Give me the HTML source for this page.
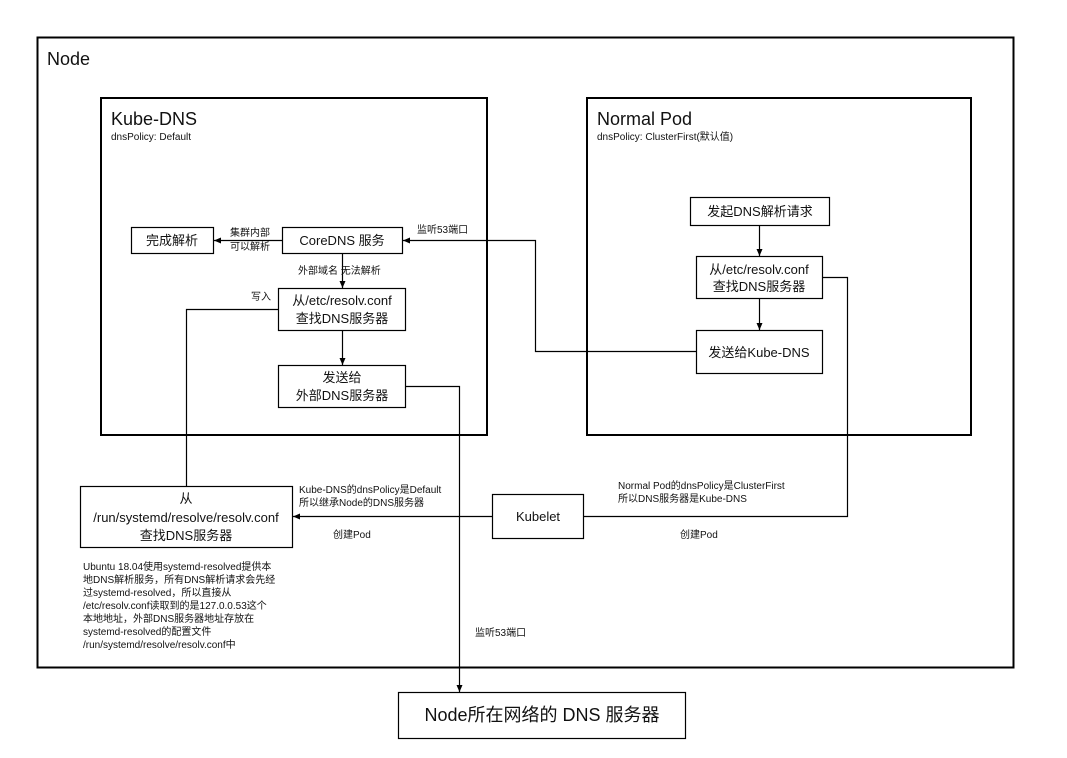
<!DOCTYPE html>
<html><head><meta charset="utf-8"><style>
body{margin:0;background:#fff}
svg text{font-family:"Liberation Sans","Noto Sans CJK SC",sans-serif;fill:#111}
</style></head><body>
<svg width="1067" height="753" viewBox="0 0 1067 753" xmlns="http://www.w3.org/2000/svg">
<defs><marker id="a" markerWidth="8" markerHeight="8" refX="7" refY="4" orient="auto" markerUnits="userSpaceOnUse"><path d="M0,1 L7,4 L0,7 z" fill="#000"/></marker></defs>
<g fill="none" stroke="#000">
<rect x="37.5" y="37.5" width="976" height="630" stroke-width="2"/>
<rect x="101" y="98" width="386" height="337" stroke-width="2"/>
<rect x="587" y="98" width="384" height="337" stroke-width="2"/>
<g stroke-width="1.2">
<rect x="131.5" y="227.5" width="82" height="26"/>
<rect x="282.5" y="227.5" width="120" height="26"/>
<rect x="278.5" y="288.5" width="127" height="42"/>
<rect x="278.5" y="365.5" width="127" height="42"/>
<rect x="690.5" y="197.5" width="139" height="28"/>
<rect x="696.5" y="256.5" width="126" height="42"/>
<rect x="696.5" y="330.5" width="126" height="43"/>
<rect x="80.5" y="486.5" width="212" height="61"/>
<rect x="492.5" y="494.5" width="91" height="44"/>
<rect x="398.5" y="692.5" width="287" height="46"/>
<path d="M282.5 240.5 H214" marker-end="url(#a)"/>
<path d="M342.5 253.5 V288" marker-end="url(#a)"/>
<path d="M342.5 330.5 V365" marker-end="url(#a)"/>
<path d="M278.5 309.5 H186.5 V486.5"/>
<path d="M405.5 386.5 H459.5 V692" marker-end="url(#a)"/>
<path d="M696.5 351.5 H535.5 V240.5 H403" marker-end="url(#a)"/>
<path d="M759.5 225.5 V256" marker-end="url(#a)"/>
<path d="M759.5 298.5 V330" marker-end="url(#a)"/>
<path d="M822.5 277.5 H847.5 V516.5 H583.5"/>
<path d="M492.5 516.5 H293" marker-end="url(#a)"/>
</g></g>
<text x="47" y="65" font-size="18">Node</text>
<text x="111" y="125" font-size="18">Kube-DNS</text>
<text x="111" y="140" font-size="10">dnsPolicy: Default</text>
<text x="597" y="125" font-size="18">Normal Pod</text>
<text x="597" y="140" font-size="10">dnsPolicy: ClusterFirst(默认值)</text>
<g font-size="13" text-anchor="middle">
<text x="172" y="245">完成解析</text>
<text x="342" y="245">CoreDNS 服务</text>
<text x="342" y="305">从/etc/resolv.conf</text>
<text x="342" y="323">查找DNS服务器</text>
<text x="342" y="382">发送给</text>
<text x="342" y="400">外部DNS服务器</text>
<text x="760" y="216">发起DNS解析请求</text>
<text x="759" y="274">从/etc/resolv.conf</text>
<text x="759" y="291">查找DNS服务器</text>
<text x="759" y="357">发送给Kube-DNS</text>
<text x="186" y="503">从</text>
<text x="186" y="522">/run/systemd/resolve/resolv.conf</text>
<text x="186" y="540">查找DNS服务器</text>
<text x="538" y="521">Kubelet</text>
<text x="542" y="721" font-size="18">Node所在网络的 DNS 服务器</text>
</g>
<g font-size="10">
<text x="230" y="236">集群内部</text>
<text x="230" y="250">可以解析</text>
<text x="298" y="274">外部域名 无法解析</text>
<text x="251" y="300">写入</text>
<text x="417" y="233">监听53端口</text>
<text x="475" y="636">监听53端口</text>
<text x="299" y="493">Kube-DNS的dnsPolicy是Default</text>
<text x="299" y="506">所以继承Node的DNS服务器</text>
<text x="333" y="538">创建Pod</text>
<text x="618" y="489">Normal Pod的dnsPolicy是ClusterFirst</text>
<text x="618" y="502">所以DNS服务器是Kube-DNS</text>
<text x="680" y="538">创建Pod</text>
<text x="83" y="570">Ubuntu 18.04使用systemd-resolved提供本</text>
<text x="83" y="583">地DNS解析服务，所有DNS解析请求会先经</text>
<text x="83" y="596">过systemd-resolved，所以直接从</text>
<text x="83" y="609">/etc/resolv.conf读取到的是127.0.0.53这个</text>
<text x="83" y="622">本地地址，外部DNS服务器地址存放在</text>
<text x="83" y="635">systemd-resolved的配置文件</text>
<text x="83" y="648">/run/systemd/resolve/resolv.conf中</text>
</g>
</svg>
</body></html>
